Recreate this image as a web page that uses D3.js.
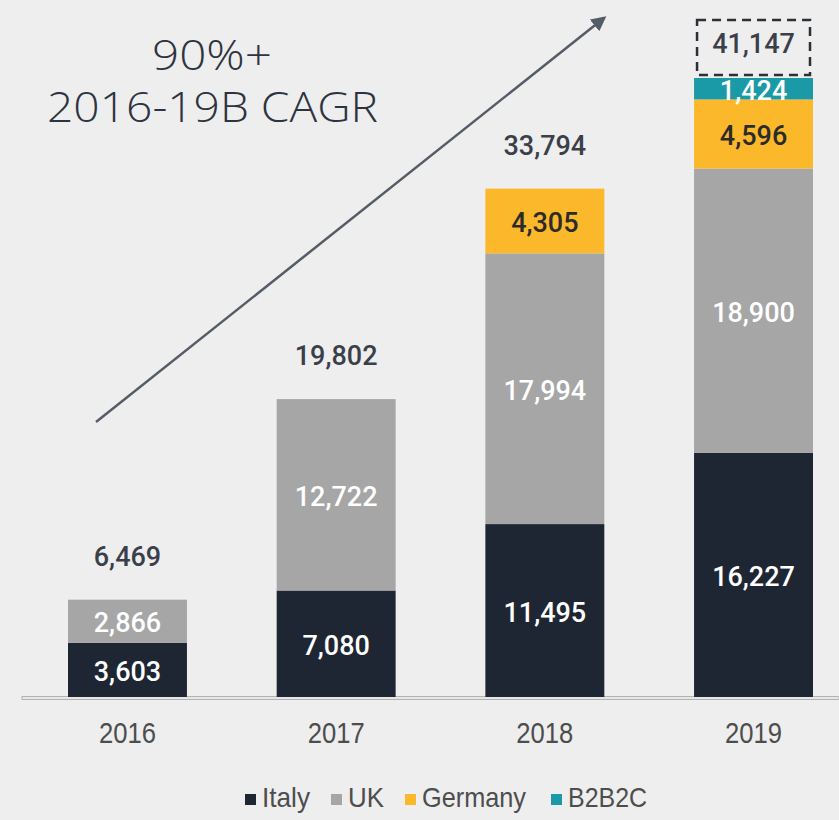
<!DOCTYPE html>
<html>
<head>
<meta charset="utf-8">
<script src="https://cdn.jsdelivr.net/npm/d3@7"></script>
<style>
  body { margin: 0; background: #eeeeee; }
  svg { display: block; }
</style>
</head>
<body>
<div id="chart"></div>
<script>
// chart data
const years = ['2016', '2017', '2018', '2019'];
const segments = ['Italy', 'UK', 'Germany', 'B2B2C'];
const italy = [3603, 7080, 11495, 16227];
const uk = [2866, 12722, 17994, 18900];
const germany = [0, 0, 4305, 4596];
const b2b2c = [0, 0, 0, 1424];
const totals = [6469, 19802, 33794, 41147];

const colors = { Italy: '#1f2633', UK: '#a6a6a6', Germany: '#fbb82b', B2B2C: '#1a9aa6' };
const labelColors = { Italy: '#ffffff', UK: '#ffffff', Germany: '#2b2b2b', B2B2C: '#ffffff' };

const width = 839, height = 820;

const svg = d3.select('#chart')
    .append('svg')
    .attr('width', width)
    .attr('height', height);

svg.append('rect')
    .attr('width', width).attr('height', height)
    .attr('fill', '#eeeeee');

// build stack rows
const rows = years.map((y, i) => ({
    year: y, Italy: italy[i], UK: uk[i], Germany: germany[i], B2B2C: b2b2c[i], total: totals[i]
}));
const stacked = d3.stack().keys(segments)(rows);

// scales
const x = d3.scaleBand()
    .domain(years)
    .range([68, 813])
    .paddingInner(0.43)
    .paddingOuter(0);
const y = d3.scaleLinear()
    .domain([0, 41147])
    .range([697, 78]);

// baseline
svg.append('rect')
    .attr('x', 22).attr('y', y(0) - 0.5)
    .attr('width', width - 22).attr('height', 3)
    .attr('fill', '#e6e6e6')
    .attr('stroke', '#b3b3b3')
    .attr('stroke-width', 1);

// bars
const layer = svg.selectAll('g.layer')
    .data(stacked)
    .enter().append('g')
    .attr('class', 'layer')
    .attr('fill', d => colors[d.key]);

layer.selectAll('rect')
    .data(d => d.filter(p => p[1] > p[0]))
    .enter().append('rect')
    .attr('x', d => x(d.data.year))
    .attr('y', d => y(d[1]))
    .attr('width', x.bandwidth())
    .attr('height', d => y(d[0]) - y(d[1]));

// segment labels
stacked.forEach(s => {
    svg.selectAll(null)
        .data(s.filter(p => p[1] > p[0]))
        .enter().append('text')
        .attr('x', d => x(d.data.year) + x.bandwidth() / 2)
        .attr('y', d => (y(d[0]) + y(d[1])) / 2 + 4)
        .attr('text-anchor', 'middle')
        .attr('dominant-baseline', 'middle')
        .attr('font-family', 'Roboto, sans-serif')
        .attr('font-weight', 500)
        .attr('font-size', 27)
        .attr('fill', labelColors[s.key])
        .text(d => d3.format(',')(d[1] - d[0]));
});

// totals
svg.selectAll('text.total')
    .data(rows)
    .enter().append('text')
    .attr('class', 'total')
    .attr('x', d => x(d.year) + x.bandwidth() / 2)
    .attr('y', d => y(d.total) - (d.year === '2019' ? 32 : 41))
    .attr('text-anchor', 'middle')
    .attr('dominant-baseline', 'middle')
    .attr('font-family', 'Roboto, sans-serif')
    .attr('font-weight', 500)
    .attr('font-size', 27)
    .attr('fill', '#3a3f4a')
    .text(d => d3.format(',')(d.total));

// dashed box round the 2019 total
svg.append('rect')
    .attr('x', x('2019') + 3)
    .attr('y', y(41147) - 58)
    .attr('width', x.bandwidth() - 6)
    .attr('height', 55)
    .attr('fill', 'none')
    .attr('stroke', '#2b2f36')
    .attr('stroke-width', 2.5)
    .attr('stroke-dasharray', '9,6');

// x axis
const xAxis = svg.append('g')
    .attr('transform', `translate(0, ${y(0) + 22})`)
    .call(d3.axisBottom(x).tickSize(0));
xAxis.select('.domain').remove();
xAxis.selectAll('text')
    .attr('font-family', '"Liberation Sans Narrow", "Liberation Sans", sans-serif')
    .attr('font-size', 30)
    .attr('fill', '#4d4d4d')
    .attr('dy', '0.71em')
    .attr('textLength', 57)
    .attr('lengthAdjust', 'spacingAndGlyphs');

// growth arrow
svg.append('defs').append('marker')
    .attr('id', 'arrow')
    .attr('viewBox', '0 0 10 10')
    .attr('refX', 8).attr('refY', 5)
    .attr('markerWidth', 6).attr('markerHeight', 6)
    .attr('orient', 'auto')
    .append('path')
    .attr('d', 'M0,0 L10,5 L0,10 z')
    .attr('fill', '#555c66');

svg.append('line')
    .attr('x1', 96).attr('y1', 422)
    .attr('x2', 604).attr('y2', 18)
    .attr('stroke', '#555c66')
    .attr('stroke-width', 2.5)
    .attr('marker-end', 'url(#arrow)');

// CAGR annotation
svg.append('text')
    .attr('x', 212).attr('y', 70)
    .attr('text-anchor', 'middle')
    .attr('font-family', '"Open Sans", sans-serif')
    .attr('font-weight', 300)
    .attr('font-size', 42)
    .attr('fill', '#2d3340')
    .attr('textLength', 120)
    .attr('lengthAdjust', 'spacingAndGlyphs')
    .text('90%+');
svg.append('text')
    .attr('x', 47).attr('y', 122)
    .attr('font-family', '"Open Sans", sans-serif')
    .attr('font-weight', 300)
    .attr('font-size', 42)
    .attr('fill', '#2d3340')
    .attr('textLength', 331)
    .attr('lengthAdjust', 'spacingAndGlyphs')
    .text('2016-19B CAGR');

// legend
const legendX = [245, 331, 405, 551];
const legendW = [48, 36, 104, 79];
const legend = svg.selectAll('g.legend')
    .data(segments)
    .enter().append('g')
    .attr('class', 'legend')
    .attr('transform', (d, i) => `translate(${legendX[i]}, 800)`);
legend.append('rect')
    .attr('x', 0).attr('y', -6)
    .attr('width', 11).attr('height', 11)
    .attr('fill', d => colors[d]);
legend.append('text')
    .attr('x', 17).attr('y', 0)
    .attr('dominant-baseline', 'middle')
    .attr('font-family', '"Liberation Sans Narrow", "Liberation Sans", sans-serif')
    .attr('font-size', 28)
    .attr('fill', '#4d4d4d')
    .attr('textLength', (d, i) => legendW[i])
    .attr('lengthAdjust', 'spacingAndGlyphs')
    .text(d => d);
</script>
</body>
</html>
